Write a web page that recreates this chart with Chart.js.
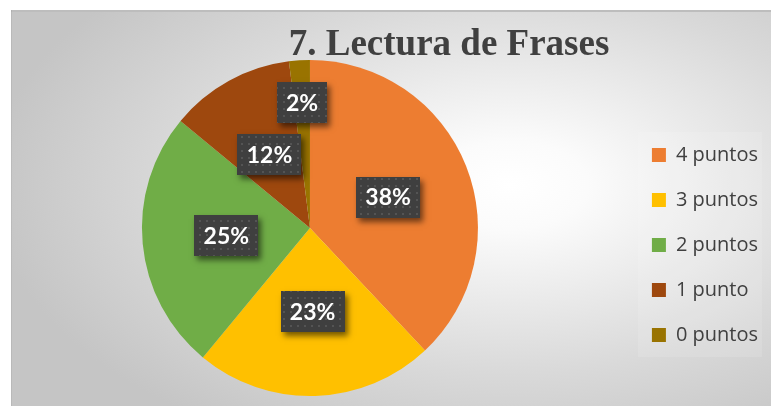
<!DOCTYPE html>
<html>
<head>
<meta charset="utf-8">
<title>7. Lectura de Frases</title>
<script src="https://cdn.jsdelivr.net/npm/chart.js@4.4.0/dist/chart.umd.min.js"></script>
<style>
  html, body { margin: 0; padding: 0; background: #ffffff; overflow: hidden; }
  #wrap { position: relative; width: 771px; height: 406px; overflow: hidden; }
  /* canvas sticks out 7px on the left so the pie can sit left of the area centre */
  #lecturaChart { position: absolute; left: -7px; top: 0; }
</style>
</head>
<body>
<div id="wrap"><canvas id="lecturaChart" width="778" height="406"></canvas></div>
<script>
// Values
const chartTitle = '7. Lectura de Frases';
const categories = ['4 puntos', '3 puntos', '2 puntos', '1 punto', '0 puntos'];
const percentages = [38, 23, 25, 12, 2];
const sliceColors = ['#ED7D31', '#FFC000', '#70AD47', '#9E480E', '#997300'];

const SHIFT_X = 7; // canvas offset to the page

// Grey panel with a soft radial highlight, like the Excel chart area
const panelPlugin = {
    id: 'panel',
    beforeDraw(chart) {
        const { ctx, height } = chart;
        const width = chart.width - SHIFT_X;
        const x0 = 11, y0 = 10;
        ctx.save();
        ctx.translate(SHIFT_X, 0);
        ctx.fillStyle = '#ffffff';
        ctx.fillRect(-SHIFT_X, 0, width + SHIFT_X, height);

        ctx.save();
        ctx.beginPath();
        ctx.rect(x0, y0, width - x0, height - y0);
        ctx.clip();
        const cx = 510, cy = 185, rx = 520, ry = 290;
        ctx.translate(cx, cy);
        ctx.scale(1, ry / rx);
        const g = ctx.createRadialGradient(0, 0, 0, 0, 0, rx);
        g.addColorStop(0, '#ffffff');
        g.addColorStop(0.15, '#fbfbfb');
        g.addColorStop(0.65, '#d9d9d9');
        g.addColorStop(1, '#c5c5c5');
        ctx.fillStyle = g;
        ctx.fillRect(-cx - 20, -(cy + 20) * rx / ry, width + 40, (height + 40) * rx / ry);
        ctx.restore();

        ctx.fillStyle = '#bdbdbd';
        ctx.fillRect(x0, y0, width - x0, 2);
        ctx.fillStyle = 'rgba(0,0,0,0.06)';
        ctx.fillRect(x0, y0, 1, height - y0);

        // title
        ctx.fillStyle = '#404040';
        ctx.font = 'bold 37px "Liberation Serif", "DejaVu Serif", serif';
        ctx.textAlign = 'center';
        ctx.textBaseline = 'alphabetic';
        ctx.fillText(chartTitle, 449, 55);
        ctx.restore();

        // faint panel behind the legend
        const hb = chart.legend && chart.legend.legendHitBoxes;
        if (hb && hb.length) {
            const left = Math.min(...hb.map(b => b.left)) - 14;
            const top = Math.min(...hb.map(b => b.top)) - 13;
            const right = Math.max(...hb.map(b => b.left + b.width)) + 4;
            const bottom = Math.max(...hb.map(b => b.top + b.height)) + 12;
            ctx.save();
            ctx.fillStyle = 'rgba(255,255,255,0.12)';
            ctx.fillRect(left, top, right - left, bottom - top);
            ctx.restore();
        }
    }
};

function makeDotPattern(ctx) {
    const tile = document.createElement('canvas');
    tile.width = 7;
    tile.height = 7;
    const t = tile.getContext('2d');
    t.fillStyle = '#3f3f3f';
    t.fillRect(0, 0, 7, 7);
    t.fillStyle = '#545454';
    t.fillRect(3, 3, 2, 2);
    return ctx.createPattern(tile, 'repeat');
}

// Dark callout boxes holding the percentage of each slice
const labelBoxPlugin = {
    id: 'labelBoxes',
    afterDatasetsDraw(chart, args, opts) {
        const { ctx } = chart;
        const meta = chart.getDatasetMeta(0);
        const values = chart.data.datasets[0].data;
        const pattern = makeDotPattern(ctx);
        ctx.save();
        ctx.font = opts.font;
        ctx.textAlign = 'center';
        ctx.textBaseline = 'middle';
        meta.data.forEach((arc, i) => {
            const p = arc.getProps(['x', 'y', 'startAngle', 'endAngle', 'outerRadius'], true);
            const mid = (p.startAngle + p.endAngle) / 2;
            const r = p.outerRadius * (opts.radialFactors[i] ?? 0.5);
            const cx = p.x + Math.cos(mid) * r;
            const cy = p.y + Math.sin(mid) * r;
            const text = values[i] + '%';
            const w = Math.round(ctx.measureText(text).width + opts.padX * 2);
            const h = opts.boxHeight;
            const bx = Math.round(cx - w / 2), by = Math.round(cy - h / 2);

            ctx.save();
            ctx.shadowColor = 'rgba(0,0,0,0.55)';
            ctx.shadowBlur = 6;
            ctx.shadowOffsetX = 3;
            ctx.shadowOffsetY = 4;
            ctx.fillStyle = '#404040';
            ctx.fillRect(bx, by, w, h);
            ctx.restore();

            ctx.fillStyle = pattern;
            ctx.fillRect(bx, by, w, h);
            ctx.fillStyle = '#ffffff';
            ctx.fillText(text, cx, cy + 1);
        });
        ctx.restore();
    }
};

function render() {
    new Chart(document.getElementById('lecturaChart'), {
        type: 'pie',
        data: {
            labels: categories,
            datasets: [{
                data: percentages,
                backgroundColor: sliceColors,
                borderWidth: 0
            }]
        },
        options: {
            responsive: false,
            animation: false,
            devicePixelRatio: 1,
            layout: { padding: { top: 60, bottom: 10, left: 0, right: 3 } },
            plugins: {
                tooltip: { enabled: false },
                title: { display: false },
                legend: {
                    position: 'right',
                    title: { display: true, text: ' ', font: { size: 20, lineHeight: 1.2 }, padding: 5 },
                    labels: {
                        boxWidth: 14,
                        boxHeight: 14,
                        padding: 25,
                        color: '#404040',
                        font: { family: '"Open Sans", sans-serif', size: 20 },
                        generateLabels: (chart) =>
                            Chart.overrides.pie.plugins.legend.labels.generateLabels(chart)
                                .map(item => ({ ...item, lineWidth: 0 }))
                    }
                },
                labelBoxes: {
                    font: 'bold 23px Lato, "Open Sans", sans-serif',
                    padX: 9,
                    boxHeight: 41,
                    radialFactors: [0.5, 0.5, 0.5, 0.5, 0.75]
                }
            }
        },
        plugins: [panelPlugin, labelBoxPlugin]
    });
}

Promise.all([
    document.fonts.load('20px "Open Sans"'),
    document.fonts.load('bold 23px Lato'),
    document.fonts.load('bold 37px "Liberation Serif"')
]).then(render, render);
</script>
</body>
</html>
